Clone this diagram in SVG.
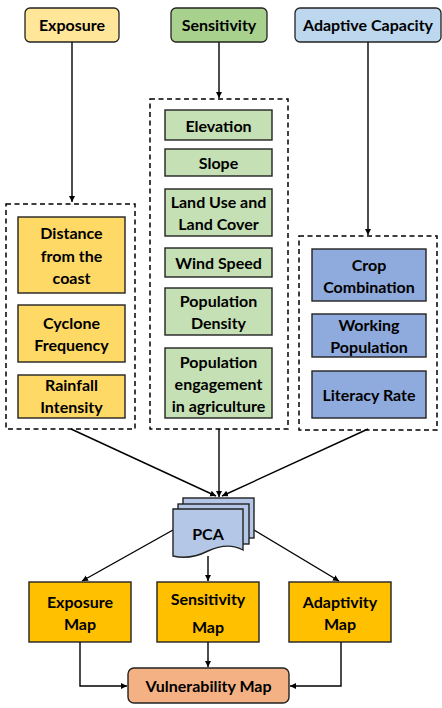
<svg xmlns="http://www.w3.org/2000/svg" width="442" height="708" viewBox="0 0 442 708">
<defs>
<marker id="ah" markerUnits="userSpaceOnUse" markerWidth="8" markerHeight="8" refX="6" refY="3" orient="auto">
<path d="M0,0 L6,3 L0,6 Z" fill="#000"/>
</marker>
</defs>
<style>
text{font-family:Lato,"Liberation Sans",sans-serif;font-weight:bold;font-size:16px;fill:#000;text-anchor:middle}
.hdr{stroke:#222;stroke-width:1.3}
.box{stroke:#222;stroke-width:1.4}
.dash{fill:none;stroke:#000;stroke-width:1.5;stroke-dasharray:5,3.5}
.ln{fill:none;stroke:#000;stroke-width:1.4}
.exp{fill:#FFD966}
.sen{fill:#C5E0B4}
.ada{fill:#8FAADC}
.map{fill:#FFC000}
</style>
<rect width="442" height="708" fill="#fff"/>
<g id="connectors">
<path class="ln" d="M72,42 V202" marker-end="url(#ah)"/>
<path class="ln" d="M219,42 V98" marker-end="url(#ah)"/>
<path class="ln" d="M368,42 V235" marker-end="url(#ah)"/>
<path class="ln" d="M71,429 L216,496" marker-end="url(#ah)"/>
<path class="ln" d="M219,429 V497" marker-end="url(#ah)"/>
<path class="ln" d="M368,429 L222,496" marker-end="url(#ah)"/>
<path class="ln" d="M173,530 L82,581" marker-end="url(#ah)"/>
<path class="ln" d="M208,556 V581" marker-end="url(#ah)"/>
<path class="ln" d="M254,530 L339,581" marker-end="url(#ah)"/>
<path class="ln" d="M80,642 V686 H127" marker-end="url(#ah)"/>
<path class="ln" d="M208,642 V667" marker-end="url(#ah)"/>
<path class="ln" d="M341,642 V686 H290" marker-end="url(#ah)"/>
</g>
<g id="exposure-header">
<rect class="hdr" x="25" y="8" width="94" height="34" rx="5" fill="#FFE699"/>
<text x="72" y="31">Exposure</text>
</g>
<g id="sensitivity-header">
<rect class="hdr" x="171" y="8" width="96" height="34" rx="5" fill="#A9D18E"/>
<text x="219" y="31">Sensitivity</text>
</g>
<g id="adaptive-header">
<rect class="hdr" x="295" y="8" width="146" height="34" rx="5" fill="#BDD7EE"/>
<text x="368" y="31">Adaptive Capacity</text>
</g>
<g id="exposure-group">
<rect class="dash" x="6" y="204" width="129" height="225"/>
<rect class="box exp" x="18" y="217" width="107" height="76"/>
<text x="71.5" y="239">Distance</text>
<text x="71.5" y="261.5">from the</text>
<text x="71.5" y="284">coast</text>
<rect class="box exp" x="18" y="305" width="107" height="57"/>
<text x="71.5" y="328.5">Cyclone</text>
<text x="71.5" y="351">Frequency</text>
<rect class="box exp" x="18" y="375" width="107" height="43"/>
<text x="71.5" y="390.5">Rainfall</text>
<text x="71.5" y="413">Intensity</text>
</g>
<g id="sensitivity-group">
<rect class="dash" x="150" y="99" width="138" height="330"/>
<rect class="box sen" x="165" y="110" width="107" height="30"/>
<text x="218.5" y="131.5">Elevation</text>
<rect class="box sen" x="165" y="149" width="107" height="27"/>
<text x="218.5" y="168.5">Slope</text>
<rect class="box sen" x="165" y="189" width="107" height="47"/>
<text x="218.5" y="207.5">Land Use and</text>
<text x="218.5" y="229.5">Land Cover</text>
<rect class="box sen" x="165" y="248" width="107" height="29"/>
<text x="218.5" y="268.5">Wind Speed</text>
<rect class="box sen" x="165" y="288" width="107" height="47"/>
<text x="218.5" y="306.5">Population</text>
<text x="218.5" y="328.5">Density</text>
<rect class="box sen" x="165" y="348" width="107" height="70"/>
<text x="218.5" y="367.5">Population</text>
<text x="218.5" y="389.5">engagement</text>
<text x="218.5" y="411.5">in agriculture</text>
</g>
<g id="adaptive-group">
<rect class="dash" x="299" y="236" width="138" height="194"/>
<rect class="box ada" x="312" y="249" width="114" height="52"/>
<text x="369" y="270.5">Crop</text>
<text x="369" y="292.5">Combination</text>
<rect class="box ada" x="312" y="314" width="114" height="43"/>
<text x="369" y="330.5">Working</text>
<text x="369" y="352.5">Population</text>
<rect class="box ada" x="312" y="371" width="114" height="47"/>
<text x="369" y="400.5">Literacy Rate</text>
</g>
<g id="pca">
<rect class="box" x="183" y="498" width="71" height="40" fill="#B4C7E7"/>
<rect class="box" x="178" y="504" width="71" height="40" fill="#B4C7E7"/>
<path class="box" d="M173,509 H243 V550 C232,544 221,545 208,551 C196,557 185,559 173,556 Z" fill="#B4C7E7"/>
<text x="208" y="540">PCA</text>
</g>
<g id="exposure-map">
<rect class="box map" x="29" y="582" width="102" height="60"/>
<text x="80" y="607.5">Exposure</text>
<text x="80" y="629.5">Map</text>
</g>
<g id="sensitivity-map">
<rect class="box map" x="157" y="582" width="102" height="60"/>
<text x="208" y="604.5">Sensitivity</text>
<text x="208" y="632.5">Map</text>
</g>
<g id="adaptivity-map">
<rect class="box map" x="289" y="582" width="102" height="60"/>
<text x="340" y="607.5">Adaptivity</text>
<text x="340" y="629.5">Map</text>
</g>
<g id="vulnerability-map">
<rect class="box" x="128" y="668" width="161" height="35" rx="6" fill="#F4B183"/>
<text x="208.5" y="691.5">Vulnerability Map</text>
</g>
</svg>
